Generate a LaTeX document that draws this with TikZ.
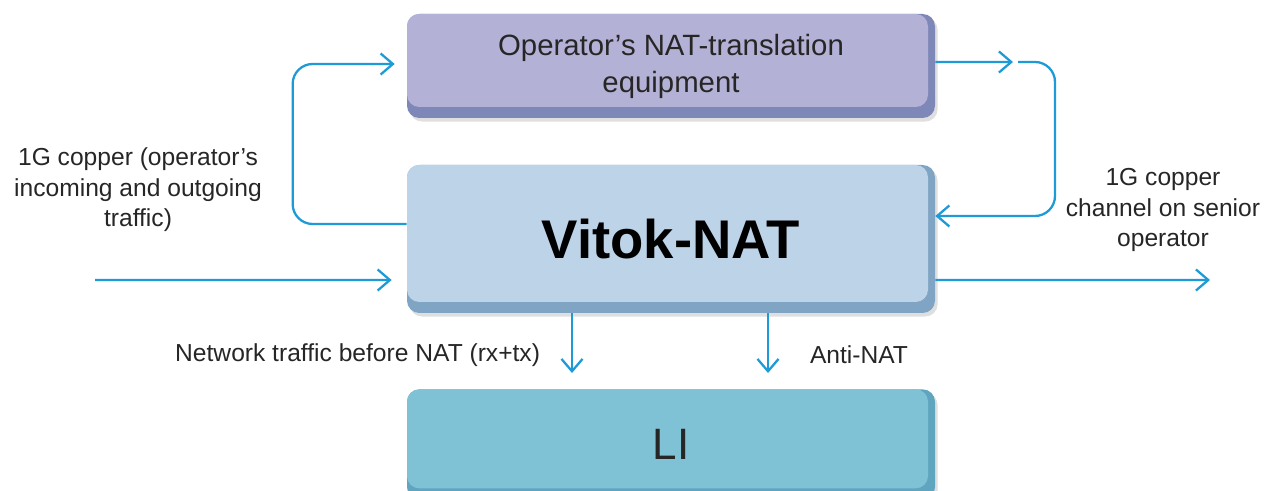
\documentclass[tikz,border=0pt]{standalone}
\usepackage{fontspec}
\setmainfont{Liberation Sans}
\usetikzlibrary{arrows.meta,shadows}
\definecolor{linkblue}{RGB}{30,155,215}
\definecolor{natfill}{RGB}{180,177,214}
\definecolor{natedge}{RGB}{126,136,184}
\definecolor{vitfill}{RGB}{189,211,232}
\definecolor{vitedge}{RGB}{128,164,196}
\definecolor{lifill}{RGB}{127,194,214}
\definecolor{liedge}{RGB}{96,165,192}
\begin{document}
\begin{tikzpicture}[
	box/.style 2 args={rounded corners=7pt,fill=#2,minimum width=10.56cm,align=center,
		drop shadow={opacity=0.25,shadow xshift=1.5pt,shadow yshift=-2pt},
		path picture={\fill[#1,rounded corners=7pt] (path picture bounding box.north west) rectangle ([shift={(-0.14,0.22)}]path picture bounding box.south east);}},
	link/.style={draw=linkblue,line width=1.3pt,-{Straight Barb[length=7pt,width=12pt]}},
	lbl/.style={align=center,text=black!85,font=\fontsize{14}{17.3}\selectfont}]
		\useasboundingbox (0,0) rectangle (25.42,9.82);

		% boxes
		\node[box={natfill}{natedge},minimum height=2.08cm,text=black!85,font=\fontsize{16.7}{21}\selectfont] (nat) at (13.42,8.5) {Operator’s NAT-translation\\equipment};
		\node[box={vitfill}{vitedge},minimum height=2.96cm,font=\fontsize{31}{36}\selectfont\bfseries] (vitok) at (13.42,5.04) {Vitok-NAT};
		\node[box={lifill}{liedge},minimum height=2.2cm,anchor=north,text=black!85,font=\fontsize{25}{30}\selectfont] (li) at (13.42,2.04) {LI};

		% side labels
		\node[lbl] (inlbl) at (2.76,6.02) {1G copper (operator’s\\incoming and outgoing\\traffic)};
		\node[lbl] (outlbl) at (23.26,5.62) {1G copper\\channel on senior\\operator};

		\coordinate (src) at (1.9,4.22);
		\coordinate (dst) at (24.2,4.22);
		\coordinate (gap) at (20.26,8.58);

		% loops through the operator's equipment
		\draw[link,rounded corners=0.4cm] ([yshift=0.3cm]vitok.west) -- ++(-2.28,0) |- ([xshift=-0.24cm,yshift=0.04cm]nat.west);
		\draw[link] ([yshift=0.08cm]nat.east) -- (gap);
		\draw[link,rounded corners=0.4cm] ([xshift=0.1cm]gap) -- ++(0.74,0) |- ([yshift=0.46cm]vitok.east);

		% main traffic
		\draw[link] (src) -- ([xshift=-0.3cm,yshift=-0.82cm]vitok.west);
		\draw[link] ([yshift=-0.82cm]vitok.east) -- (dst);

		% towards LI
		\draw[link] ([xshift=-1.98cm]vitok.south) -- node[lbl,pos=0.7,left=0.5cm] (rxtx) {Network traffic before NAT (rx+tx)} ([xshift=-1.98cm,yshift=0.32cm]li.north);
		\draw[link] ([xshift=1.94cm]vitok.south) -- node[lbl,pos=0.7,right=0.7cm] (anti) {Anti-NAT} ([xshift=1.94cm,yshift=0.32cm]li.north);
	\end{tikzpicture}
\end{document}
